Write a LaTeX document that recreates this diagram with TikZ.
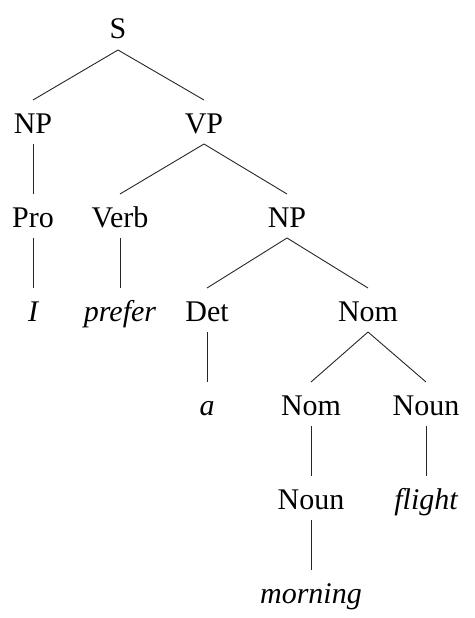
\documentclass[tikz,border=0pt]{standalone}
\usepackage{fontspec}
\setmainfont{Liberation Serif}
\begin{document}
\begin{tikzpicture}[x=1pt,y=-1pt,
  lab/.style={anchor=base,inner sep=0pt,font=\fontsize{30}{36}\selectfont},
  leaf/.style={lab,font=\fontsize{30}{36}\selectfont\itshape},
  edge/.style={draw=black!85,line width=0.9pt}]
\useasboundingbox (0,0) rectangle (474,618);
\node[lab] (S) at (118,39) {S};
\node[lab] (NP) at (33,133) {NP};
\node[lab] (VP) at (204,133) {VP};
\node[lab] (Pro) at (33,227) {Pro};
\node[lab] (Verb) at (120,227) {Verb};
\node[lab] (NPb) at (287,227) {NP};
\node[leaf] (I) at (33,321) {I};
\node[leaf] (prefer) at (120,321) {prefer};
\node[lab] (Det) at (207,321) {Det};
\node[lab] (Nom) at (368,321) {Nom};
\node[leaf] (a) at (207,415) {a};
\node[lab] (Nomb) at (311,415) {Nom};
\node[lab] (Noun) at (426,415) {Noun};
\node[lab] (Nounb) at (311,509) {Noun};
\node[leaf] (flight) at (426,509) {flight};
\node[leaf] (morning) at (311,603) {morning};
\foreach \p/\c in {S/NP,S/VP,NP/Pro,VP/Verb,VP/NPb,Pro/I,Verb/prefer,NPb/Det,NPb/Nom,Det/a,Nom/Nomb,Nom/Noun,Nomb/Nounb,Noun/flight,Nounb/morning}
  \draw[edge] ([yshift=-11pt]\p.base) -- ([yshift=33pt]\c.base);
\end{tikzpicture}
\end{document}
